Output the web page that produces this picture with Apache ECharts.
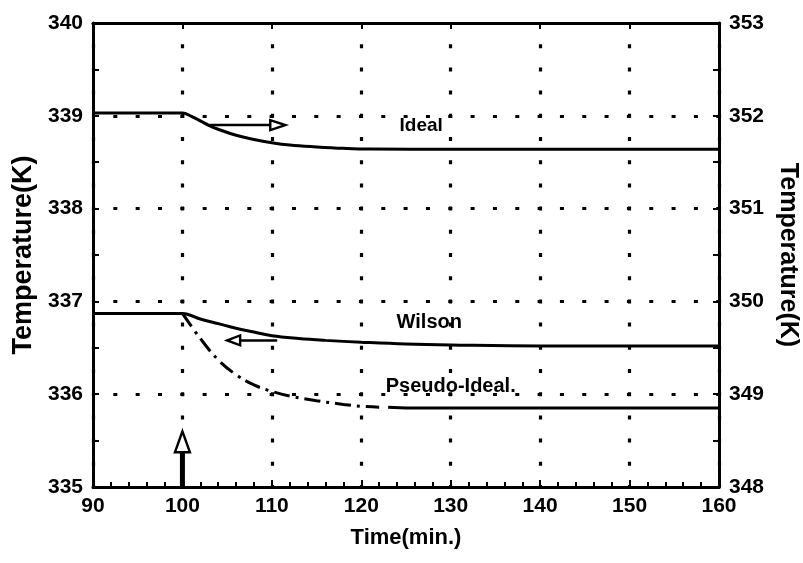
<!DOCTYPE html>
<html>
<head>
<meta charset="utf-8">
<script src="https://cdn.jsdelivr.net/npm/echarts@6/dist/echarts.min.js"></script>
<style>
  html, body { margin: 0; padding: 0; background: #fff; }
  #chart { width: 803px; height: 563px; }
</style>
</head>
<body>
<div id="chart"></div>
<script>
// Axis ranges
const timeRange = [90, 160];
const leftTempRange = [335, 340];
const rightTempRange = [348, 353];

// Ideal model (right axis)
const idealTime = [90, 98, 100, 101, 102, 103, 104, 106, 108, 110, 112, 115, 118, 121, 130, 160];
const idealTemp = [352.03, 352.03, 352.03, 351.995, 351.945, 351.895, 351.855, 351.79, 351.745, 351.71, 351.685, 351.665, 351.65, 351.642, 351.64, 351.64];

// Wilson model (left axis)
const wilsonTime = [90, 98, 100, 102, 104, 106, 108, 110, 113, 116, 120, 125, 130, 140, 160];
const wilsonTemp = [336.87, 336.87, 336.87, 336.81, 336.76, 336.71, 336.67, 336.63, 336.60, 336.58, 336.56, 336.54, 336.53, 336.52, 336.52];

// Pseudo-Ideal model (left axis)
const pseudoTime = [100, 102, 104, 106, 108, 110, 112, 115, 118, 120, 122, 123, 125, 130, 160];
const pseudoTemp = [336.87, 336.60, 336.37, 336.21, 336.10, 336.03, 335.98, 335.93, 335.89, 335.87, 335.86, 335.86, 335.85, 335.85, 335.85];

// Curve captions [text, time, temperature]
const idealCaption = ['Ideal', 126.7, 351.89];
const wilsonCaption = ['Wilson', 127.6, 336.77];
const pseudoCaption = ['Pseudo-Ideal.', 130.0, 336.08];

// Arrows [fromTime, fromTemp, toTime, toTemp]
const idealArrow = [103.0, 351.90, 111.5, 351.90];
const wilsonArrow = [110.6, 336.58, 105.0, 336.58];
const stepArrow = [100, 335, 100, 335.6];

const zip = (xs, ys) => xs.map((x, i) => [x, ys[i]]);
const pseudoPts = zip(pseudoTime, pseudoTemp);

const FONT = '"Liberation Sans", Arial, Helvetica, sans-serif';
const txt = { color: '#000', fontFamily: FONT, fontWeight: 'bold' };

function arrowRenderer(headLen, headHalf, shaftWidth) {
  return function (params, api) {
    const a = api.coord([api.value(0), api.value(1)]);
    const b = api.coord([api.value(2), api.value(3)]);
    const dx = b[0] - a[0], dy = b[1] - a[1];
    const L = Math.hypot(dx, dy) || 1;
    const ux = dx / L, uy = dy / L;
    const base = [b[0] - ux * headLen, b[1] - uy * headLen];
    const nx = -uy, ny = ux;
    return {
      type: 'group',
      children: [
        { type: 'line', shape: { x1: a[0], y1: a[1], x2: base[0], y2: base[1] },
          style: { stroke: '#000', lineWidth: shaftWidth } },
        { type: 'polygon',
          shape: { points: [b, [base[0] + nx * headHalf, base[1] + ny * headHalf], [base[0] - nx * headHalf, base[1] - ny * headHalf]] },
          style: { fill: '#fff', stroke: '#000', lineWidth: 2.4 } }
      ]
    };
  };
}

function arrowSeries(arrow, yAxisIndex, headLen, headHalf, shaftWidth) {
  return {
    type: 'custom', xAxisIndex: 0, yAxisIndex: yAxisIndex, z: 5, silent: true,
    renderItem: arrowRenderer(headLen, headHalf, shaftWidth),
    encode: { x: [0, 2], y: [1, 3] },
    data: [arrow]
  };
}

function captionSeries(cap, yAxisIndex, size) {
  return {
    type: 'scatter', xAxisIndex: 0, yAxisIndex: yAxisIndex, symbolSize: 0, silent: true,
    itemStyle: { opacity: 1 },
    data: [{ name: cap[0], value: [cap[1], cap[2]] }],
    label: { show: true, position: 'inside', formatter: '{b}', fontSize: size, ...txt, opacity: 1 }
  };
}

const dotted = (period) => ({ color: '#000', width: 3.2, type: [4, period - 4], dashOffset: 2 });

const chart = echarts.init(document.getElementById('chart'), null, { renderer: 'canvas' });
chart.setOption({
  animation: false,
  backgroundColor: '#fff',
  grid: { left: 93, right: 84, top: 23, bottom: 76, containLabel: false, outerBoundsMode: 'none' },
  xAxis: [
    {
      type: 'value', position: 'bottom', min: timeRange[0], max: timeRange[1], interval: 10,
      name: 'Time(min.)', nameLocation: 'middle', nameGap: 40,
      nameTextStyle: { fontSize: 22, ...txt },
      axisLine: { show: true, onZero: false, lineStyle: { color: '#000', width: 3 } },
      axisTick: { show: true, inside: true, length: 7, lineStyle: { color: '#000', width: 2 } },
      minorTick: { show: true, splitNumber: 5, length: 5, lineStyle: { color: '#000', width: 2 } },
      axisLabel: { fontSize: 21, margin: 9, ...txt },
      splitLine: { show: true, lineStyle: dotted(23.2) },
      minorSplitLine: { show: false }
    },
    {
      type: 'value', position: 'top', min: timeRange[0], max: timeRange[1], interval: 10,
      axisLine: { show: true, onZero: false, lineStyle: { color: '#000', width: 3 } },
      axisTick: { show: true, inside: true, length: 6, lineStyle: { color: '#000', width: 2 } },
      axisLabel: { show: false },
      splitLine: { show: false }
    }
  ],
  yAxis: [
    {
      type: 'value', position: 'left', min: leftTempRange[0], max: leftTempRange[1], interval: 1,
      name: 'Temperature(K)', nameLocation: 'middle', nameGap: 52, nameRotate: 90,
      nameTextStyle: { fontSize: 27, ...txt },
      axisLine: { show: true, onZero: false, lineStyle: { color: '#000', width: 3 } },
      axisTick: { show: true, inside: true, length: 6, lineStyle: { color: '#000', width: 2 } },
      minorTick: { show: true, splitNumber: 2, length: 6, lineStyle: { color: '#000', width: 2 } },
      axisLabel: { fontSize: 21, margin: 10, ...txt },
      splitLine: { show: true, lineStyle: dotted(22.33) }
    },
    {
      type: 'value', position: 'right', min: rightTempRange[0], max: rightTempRange[1], interval: 1,
      name: 'Temperature(K)', nameLocation: 'middle', nameGap: 46, nameRotate: -90,
      nameTextStyle: { fontSize: 25, ...txt },
      axisLine: { show: true, onZero: false, lineStyle: { color: '#000', width: 3 } },
      axisTick: { show: true, inside: true, length: 6, lineStyle: { color: '#000', width: 2 } },
      minorTick: { show: true, splitNumber: 2, length: 6, lineStyle: { color: '#000', width: 2 } },
      axisLabel: { fontSize: 21, margin: 10, ...txt },
      splitLine: { show: false }
    }
  ],
  series: [
    {
      name: 'Ideal', type: 'line', xAxisIndex: 0, yAxisIndex: 1, showSymbol: false,
      smooth: 0.4,
      data: zip(idealTime, idealTemp),
      lineStyle: { color: '#000', width: 3 }
    },
    {
      name: 'Wilson', type: 'line', xAxisIndex: 0, yAxisIndex: 0, showSymbol: false,
      smooth: 0.4,
      data: zip(wilsonTime, wilsonTemp),
      lineStyle: { color: '#000', width: 3 }
    },
    {
      name: 'Pseudo-Ideal', type: 'line', xAxisIndex: 0, yAxisIndex: 0, showSymbol: false,
      smooth: 0.4,
      data: pseudoPts.filter(p => p[0] <= 122),
      lineStyle: { color: '#000', width: 3, type: [16, 6, 3, 6] }
    },
    {
      name: 'Pseudo-Ideal (steady)', type: 'line', xAxisIndex: 0, yAxisIndex: 0, showSymbol: false,
      data: pseudoPts.filter(p => p[0] >= 123),
      lineStyle: { color: '#000', width: 3 }
    },
    arrowSeries(idealArrow, 1, 15, 5, 2.5),
    arrowSeries(wilsonArrow, 0, 13, 5, 2.5),
    arrowSeries(stepArrow, 0, 21, 7.5, 5),
    captionSeries(idealCaption, 1, 19),
    captionSeries(wilsonCaption, 0, 20),
    captionSeries(pseudoCaption, 0, 20)
  ]
});
</script>
</body>
</html>
